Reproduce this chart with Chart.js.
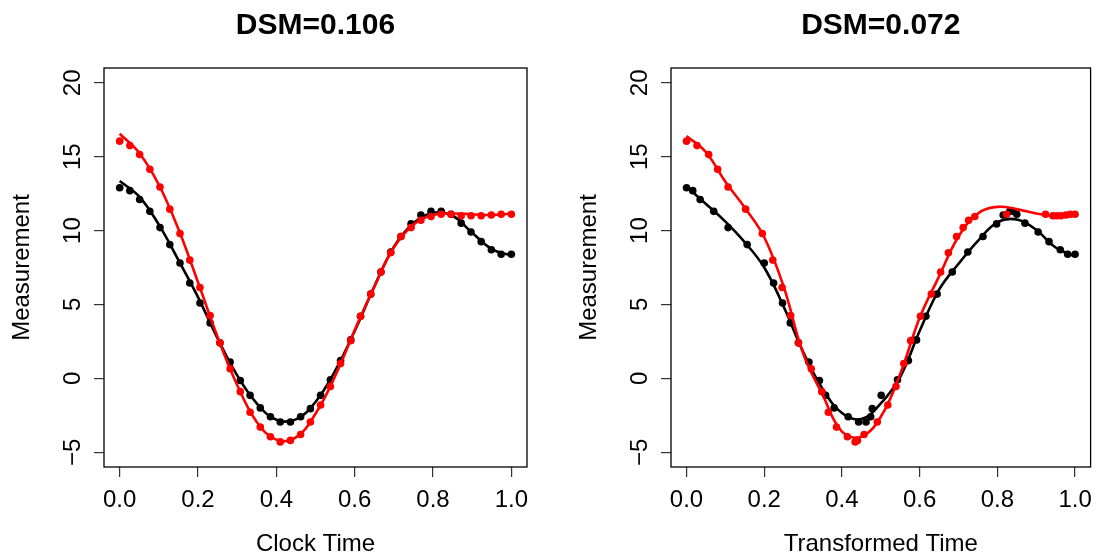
<!DOCTYPE html>
<html>
<head>
<meta charset="utf-8">
<script src="https://cdn.jsdelivr.net/npm/chart.js@4/dist/chart.umd.min.js"></script>
<style>
  html, body { margin: 0; padding: 0; background: #fff; }
  #left { position: absolute; left: 0; top: 0; }
  #right { position: absolute; left: 567px; top: 0; }
</style>
</head>
<body>
<canvas id="left" width="567" height="559"></canvas>
<canvas id="right" width="534" height="559"></canvas>
<script>
// sampled clock time (same for both series)
const clockTime = [0, 0.026, 0.051, 0.077, 0.103, 0.128, 0.154, 0.179, 0.205, 0.231,
  0.256, 0.282, 0.308, 0.333, 0.359, 0.385, 0.41, 0.436, 0.462, 0.487,
  0.513, 0.538, 0.564, 0.59, 0.615, 0.641, 0.667, 0.692, 0.718, 0.744,
  0.769, 0.795, 0.821, 0.846, 0.872, 0.897, 0.923, 0.949, 0.974, 1];

// measurements
const blackValues = [12.9, 12.7, 12.1, 11.3, 10.2, 9.05, 7.8, 6.45, 5.1, 3.75,
  2.4, 1.1, -0.15, -1.15, -2.0, -2.6, -2.95, -2.95, -2.6, -2.05,
  -1.15, -0.1, 1.2, 2.6, 4.2, 5.7, 7.2, 8.55, 9.6, 10.45,
  11.05, 11.3, 11.3, 11.1, 10.5, 9.9, 9.25, 8.7, 8.4, 8.4];
const redValues = [16.05, 15.75, 15.15, 14.15, 12.95, 11.45, 9.8, 8.0, 6.15, 4.25,
  2.4, 0.65, -0.9, -2.3, -3.3, -3.95, -4.3, -4.2, -3.8, -2.95,
  -1.8, -0.55, 1.0, 2.55, 4.2, 5.7, 7.2, 8.5, 9.6, 10.2,
  10.7, 10.95, 11.1, 11.1, 11.0, 11.0, 11.0, 11.05, 11.1, 11.1];

// transformed time for each series
const blackTransformed = [0, 0.016, 0.035, 0.07, 0.107, 0.156, 0.2, 0.224, 0.247, 0.267,
  0.288, 0.315, 0.342, 0.358, 0.38, 0.416, 0.443, 0.462, 0.474, 0.478,
  0.501, 0.543, 0.571, 0.592, 0.616, 0.645, 0.684, 0.724, 0.763, 0.798,
  0.815, 0.832, 0.841, 0.85, 0.871, 0.905, 0.933, 0.962, 0.981, 1];
const redTransformed = [0, 0.027, 0.057, 0.08, 0.107, 0.152, 0.195, 0.222, 0.246, 0.268,
  0.288, 0.321, 0.348, 0.365, 0.386, 0.414, 0.434, 0.44, 0.457, 0.491,
  0.518, 0.539, 0.559, 0.577, 0.602, 0.63, 0.654, 0.674, 0.695, 0.712,
  0.726, 0.742, 0.824, 0.924, 0.943, 0.953, 0.964, 0.977, 0.988, 1];

// fitted curves, read at these times
const fitTime = [0, 0.05, 0.1, 0.15, 0.2, 0.25, 0.3, 0.35, 0.4, 0.45,
  0.5, 0.55, 0.6, 0.65, 0.7, 0.75, 0.8, 0.85, 0.9, 0.95, 1];
const blackFitClock = [13.35, 12.3, 10.4, 8.0, 5.5, 2.7, 0.2, -1.7, -2.8, -2.78,
  -1.6, 0.5, 3.2, 6.2, 8.9, 10.5, 11.2, 11.0, 9.85, 8.75, 8.3];
const redFitClock = [16.55, 15.25, 13.1, 10.1, 6.5, 2.8, -0.45, -2.95, -4.15, -4.0,
  -2.4, 0.15, 3.25, 6.2, 8.85, 10.4, 11.05, 11.15, 11.1, 11.05, 11.15];
const blackFitTransformed = [12.97, 11.8, 10.6, 9.2, 7.5, 4.85, 1.8, -0.7, -2.35, -2.75,
  -1.7, 0.1, 3.2, 6.0, 7.75, 9.3, 10.55, 10.75, 10.05, 8.85, 8.25];
const redFitTransformed = [16.4, 15.3, 13.3, 11.55, 9.55, 6.2, 1.7, -1.1, -3.6, -3.95,
  -2.6, 0.3, 4.1, 6.9, 9.6, 11.15, 11.6, 11.45, 11.15, 11.0, 11.1];

const xTicks = [0, 0.2, 0.4, 0.6, 0.8, 1.0];
const yTicks = [-5, 0, 5, 10, 15, 20];

const FONT = '"Liberation Sans", Arial, Helvetica, sans-serif';

function pairs(xs, ys) {
  return xs.map((x, i) => ({ x: x, y: ys[i] }));
}

const panelDecor = {
  id: 'panelDecor',
  afterDraw(chart, args, opts) {
    const ctx = chart.ctx;
    const a = chart.chartArea;
    const y = chart.scales.y;
    ctx.save();
    ctx.strokeStyle = '#000';
    ctx.lineWidth = 1.3;
    ctx.strokeRect(a.left, a.top, a.right - a.left, a.bottom - a.top);
    ctx.fillStyle = '#000';
    ctx.textAlign = 'center';
    ctx.textBaseline = 'alphabetic';
    ctx.font = 'bold 30px ' + FONT;
    ctx.fillText(opts.title, (a.left + a.right) / 2, 33.5);
    ctx.font = '24px ' + FONT;
    yTicks.forEach(v => {
      const py = y.getPixelForValue(v);
      const label = v < 0 ? '\u2212' + Math.abs(v) : String(v);
      ctx.save();
      ctx.translate(80, py);
      ctx.rotate(-Math.PI / 2);
      ctx.fillText(label, 0, 0);
      ctx.restore();
    });
    ctx.restore();
  }
};

function createPanel(canvas, cfg) {
  const pointStyle = color => ({
    showLine: false, pointRadius: 3.8, pointHoverRadius: 3.8,
    pointBackgroundColor: color, pointBorderWidth: 0, borderColor: color
  });
  const lineStyle = color => ({
    showLine: true, pointRadius: 0, borderColor: color, borderWidth: 2.6,
    tension: 0.4, fill: false
  });

  new Chart(canvas, {
    type: 'scatter',
    data: {
      datasets: [
        Object.assign({ data: pairs(fitTime, cfg.redFit) }, lineStyle('#ff0000')),
        Object.assign({ data: pairs(cfg.redX, redValues) }, pointStyle('#ff0000')),
        Object.assign({ data: pairs(fitTime, cfg.blackFit) }, lineStyle('#000000')),
        Object.assign({ data: pairs(cfg.blackX, blackValues) }, pointStyle('#000000'))
      ]
    },
    options: {
      responsive: false,
      animation: false,
      devicePixelRatio: 1,
      layout: { padding: { top: 68, right: cfg.padRight, bottom: 0, left: 0 } },
      plugins: {
        legend: { display: false },
        tooltip: { enabled: false },
        panelDecor: { title: cfg.title }
      },
      scales: {
        x: {
          type: 'linear',
          min: -0.04,
          max: 1.04,
          afterFit: s => { s.height = 92; },
          afterBuildTicks: s => { s.ticks = xTicks.map(v => ({ value: v })); },
          border: { display: false },
          grid: { drawOnChartArea: false, drawTicks: true, tickLength: 10, color: '#333', lineWidth: 1.2 },
          ticks: {
            padding: 9,
            color: '#000',
            maxRotation: 0,
            font: { family: FONT, size: 24 },
            callback: v => Number(v).toFixed(1)
          },
          title: {
            display: true,
            text: cfg.xTitle,
            color: '#000',
            font: { family: FONT, size: 24 },
            padding: { top: 0, bottom: 0 }
          }
        },
        y: {
          type: 'linear',
          min: -6,
          max: 21,
          afterFit: s => { s.width = 104; },
          afterBuildTicks: s => { s.ticks = yTicks.map(v => ({ value: v })); },
          border: { display: false },
          grid: { drawOnChartArea: false, drawTicks: true, tickLength: 10, color: '#333', lineWidth: 1.2 },
          ticks: { display: false },
          title: {
            display: true,
            text: 'Measurement',
            color: '#000',
            font: { family: FONT, size: 24 },
            padding: { top: 8, bottom: 0 }
          }
        }
      }
    },
    plugins: [panelDecor]
  });
}

createPanel(document.getElementById('left'), {
  title: 'DSM=0.106',
  xTitle: 'Clock Time',
  blackX: clockTime,
  redX: clockTime,
  blackFit: blackFitClock,
  redFit: redFitClock,
  padRight: 40
});

createPanel(document.getElementById('right'), {
  title: 'DSM=0.072',
  xTitle: 'Transformed Time',
  blackX: blackTransformed,
  redX: redTransformed,
  blackFit: blackFitTransformed,
  redFit: redFitTransformed,
  padRight: 7
});
</script>
</body>
</html>
